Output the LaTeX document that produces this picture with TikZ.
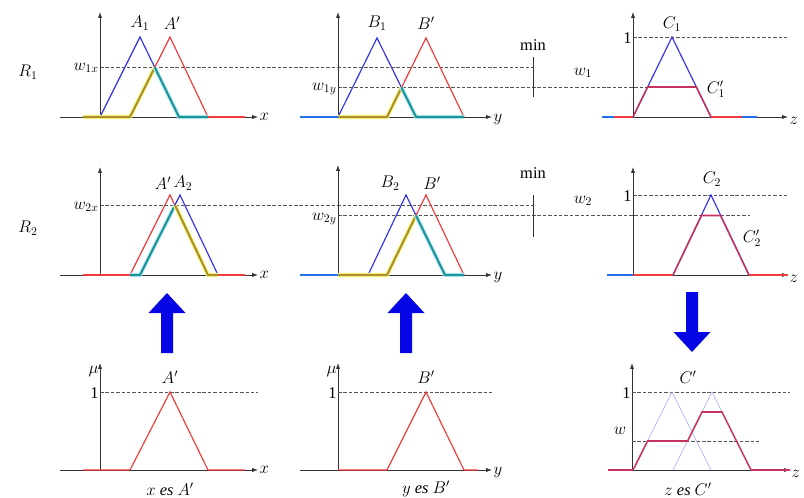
\documentclass[tikz,border=0pt]{standalone}
\usepackage{fontspec}
\setmainfont{Liberation Serif}
\usepackage{tikz}
\usetikzlibrary{arrows.meta, positioning, calc}
\definecolor{fzblue}{HTML}{3232E6}
\definecolor{fzred}{HTML}{F03C3C}
\definecolor{fzolive}{HTML}{A8922A}
\definecolor{fzteal}{HTML}{1E9696}
\definecolor{fzout}{HTML}{C8325F}
\definecolor{fzarrow}{HTML}{0505E6}
\definecolor{fzaxis}{HTML}{333333}
\definecolor{fzdash}{HTML}{555555}
\newcommand{\lblfont}{\fontsize{14}{16}\selectfont}
\tikzset{
  axisline/.style={draw=fzaxis, line width=0.6pt, -{Latex[length=5pt,width=3.5pt]}},
  yaxisline/.style={draw=fzaxis, line width=0.6pt, -{Latex[length=5pt,width=3.5pt]}},
  mfblue/.style={draw=fzblue, line width=1pt, line join=miter},
  mfred/.style={draw=fzred, line width=1pt, line join=miter},
  mfthin/.style={draw=fzblue!45, line width=0.4pt},
  minolive/.style={draw=fzolive, line width=1.8pt,
    preaction={draw=yellow!45, line width=3.6pt}},
  minteal/.style={draw=fzteal, line width=1.8pt,
    preaction={draw=cyan!25, line width=3.6pt}},
  zeroblue/.style={draw=fzblue!70!cyan, line width=1.4pt},
  zerored/.style={draw=fzred, line width=1.4pt},
  clipred/.style={draw=fzout, line width=1.3pt, line join=miter},
  lvl/.style={draw=fzdash, line width=0.5pt, dash pattern=on 3pt off 1.6pt},
  mintick/.style={draw=fzaxis, line width=0.6pt},
  bigup/.pic={
    \fill[fzarrow] (-6,30) -- (-6,-10) -- (-18.5,-10) -- (0,-30)
      -- (18.5,-10) -- (6,-10) -- (6,30) -- cycle;
  },
}

\begin{document}
\begin{tikzpicture}[x=0.03cm, y=-0.03cm, every node/.style={font=\lblfont, inner sep=1pt}]
  \useasboundingbox (0,0) rectangle (804,497);

  % ---------- rule R1 ----------
  \node (r1) at (28,72) {$R_1$};
  \draw[lvl] (100,67) -- (533,67);
  \draw[lvl] (338,87) -- (647.6,87);

  % x
  \draw[axisline] (60,117) -- (258,117) node[right] (ax1) {$x$};
  \draw[yaxisline] (100,117) -- (100,12);
  \draw[mfblue] (100,117) -- (140,37) -- (179,117);
  \draw[mfred] (130,117) -- (170,37) -- (208,117);
  \coordinate (i1x) at (154.8,67.4);
  \draw[minolive] (83,117) -- (130,117) -- (i1x);
  \draw[minteal] (i1x) -- (179,117) -- (208,117);
  \draw[zerored] (208,117) -- (245,117);
  \node (a1) at (140,23) {$A_1$};
  \node (ap1) at (172,23) {$A'$};
  \node[left] (w1x) at (100,68) {$w_{1x}$};

  % y
  \draw[axisline] (300,117) -- (492,117) node[right, yshift=-2pt] (ay1) {$y$};
  \draw[yaxisline] (338,117) -- (338,12);
  \draw[mfblue] (338,117) -- (377,38) -- (416,117);
  \draw[mfred] (387,117) -- (426,38) -- (464,117);
  \coordinate (i1y) at (401.5,87.6);
  \draw[zeroblue] (300,117) -- (338,117);
  \draw[minolive] (338,117) -- (387,117) -- (i1y);
  \draw[minteal] (i1y) -- (416,117) -- (464,117);
  \node (b1) at (377,23) {$B_1$};
  \node (bp1) at (426,23) {$B'$};
  \node[left] (w1y) at (338,89) {$w_{1y}$};
  \draw[mintick] (533,57) -- (533,97);
  \node (min1) at (533,45) {min};

  % z
  \draw[axisline] (602,117) -- (788,117) node[right, yshift=-3pt] (az1) {$z$};
  \draw[yaxisline] (633,117) -- (633,12);
  \draw[lvl] (633,37) -- (788,37);
  \node[left] (one1) at (633,38) {1};
  \draw[zeroblue] (602,117) -- (614,117);
  \draw[zerored] (614,117) -- (633,117) (711,117) -- (742,117);
  \draw[zeroblue] (742,117) -- (757,117);
  \draw[mfblue] (633,117) -- (672,37) -- (711,117);
  \draw[clipred] (633,117) -- (647.6,87) -- (696.4,87) -- (711,117);
  \node (c1) at (672,24) {$C_1$};
  \node (cp1) at (716,89) {$C_1'$};
  \node (w1) at (583,73) {$w_1$};

  % ---------- rule R2 ----------
  \node (r2) at (28,228) {$R_2$};
  \draw[lvl] (100,205.2) -- (533,205.2);
  \draw[lvl] (338,215.5) -- (750,215.5);

  % x
  \draw[axisline] (60,275) -- (258,275) node[right] (ax2) {$x$};
  \draw[yaxisline] (100,275) -- (100,167);
  \draw[mfred] (130,275) -- (170,195) -- (208,275);
  \draw[mfblue] (140,275) -- (180,195) -- (218,275);
  \coordinate (i2x) at (175,205.2);
  \draw[zerored] (83,275) -- (130,275);
  \draw[minteal] (130,275) -- (140,275) -- (i2x);
  \draw[minolive] (i2x) -- (208,275) -- (218,275);
  \draw[zerored] (218,275) -- (245,275);
  \node (ap2) at (163,183) {$A'$};
  \node (a2) at (183,183) {$A_2$};
  \node[left] (w2x) at (100,207) {$w_{2x}$};

  % y
  \draw[axisline] (300,275) -- (492,275) node[right, yshift=-2pt] (ay2) {$y$};
  \draw[yaxisline] (338,275) -- (338,165);
  \draw[mfblue] (368,275) -- (406,195) -- (445,275);
  \draw[mfred] (387,275) -- (426,195) -- (464,275);
  \coordinate (i2y) at (416,215.5);
  \draw[zeroblue] (300,275) -- (338,275);
  \draw[minolive] (338,275) -- (387,275) -- (i2y);
  \draw[minteal] (i2y) -- (445,275) -- (464,275);
  \node (b2) at (390,183) {$B_2$};
  \node (bp2) at (432,183) {$B'$};
  \node[left] (w2y) at (338,219) {$w_{2y}$};
  \draw[mintick] (533,195) -- (533,237);
  \node (min2) at (533,173) {min};

  % z
  \draw[axisline] (607,275) -- (788,275) node[right, yshift=-3pt] (az2) {$z$};
  \draw[yaxisline] (633,275) -- (633,167);
  \draw[lvl] (633,195) -- (788,195);
  \node[left] (one2) at (633,196) {1};
  \draw[zeroblue] (607,275) -- (633,275);
  \draw[zerored] (633,275) -- (673,275) (749,275) -- (788,275);
  \draw[mfblue] (673,275) -- (711,195) -- (749,275);
  \draw[clipred] (673,275) -- (701.5,215.5) -- (720.5,215.5) -- (749,275);
  \node (c2) at (712,179) {$C_2$};
  \node (cp2) at (752,238) {$C_2'$};
  \node (w2) at (583,201) {$w_2$};

  % ---------- arrows ----------
  \pic at (167,323) {bigup};
  \pic at (406,323) {bigup};
  \pic[rotate=180] at (692,322) {bigup};

  % ---------- facts and conclusion ----------
  \draw[axisline] (60,470) -- (258,470) node[right] (ax3) {$x$};
  \draw[yaxisline] (100,470) -- (100,363);
  \node[left] (mu1) at (100,372) {$\mu$};
  \draw[lvl] (100,392) -- (258,392);
  \node[left] (one3) at (100,393) {1};
  \draw[mfred] (83,470) -- (130,470) -- (170,392) -- (208,470) -- (245,470);
  \node (ap3) at (170,377) {$A'$};
  \node (fx) at (170,489) {$x\ \mathit{es}\ A'$};

  \draw[axisline] (300,470) -- (492,470) node[right, yshift=-2pt] (ay3) {$y$};
  \draw[yaxisline] (338,470) -- (338,363);
  \node[left] (mu2) at (338,372) {$\mu$};
  \draw[lvl] (338,392) -- (493,392);
  \node[left] (one4) at (338,393) {1};
  \draw[mfred] (338,470) -- (387,470) -- (426,392) -- (464,470) -- (478,470);
  \node (bp3) at (426,377) {$B'$};
  \node (fy) at (426,489) {$y\ \mathit{es}\ B'$};

  \draw[axisline] (608,470) -- (790,470) node[right, yshift=-3pt] (az3) {$z$};
  \draw[yaxisline] (632,470) -- (632,363);
  \draw[lvl] (632,392) -- (790,392);
  \node[left] (one5) at (632,393) {1};
  \draw[lvl] (632,441) -- (760,441);
  \node (w) at (620,431) {$w$};
  \draw[mfthin] (633,470) -- (672,392) -- (711,470);
  \draw[mfthin] (673,470) -- (712,392) -- (751,470);
  \draw[clipred] (608,470) -- (633,470) -- (647.6,441) -- (687.6,441)
    -- (702,412) -- (722,412) -- (751,470) -- (790,470);
  \node (cp3) at (688,377) {$C'$};
  \node (fz) at (688,489) {$z\ \mathit{es}\ C'$};
\end{tikzpicture}
\end{document}
